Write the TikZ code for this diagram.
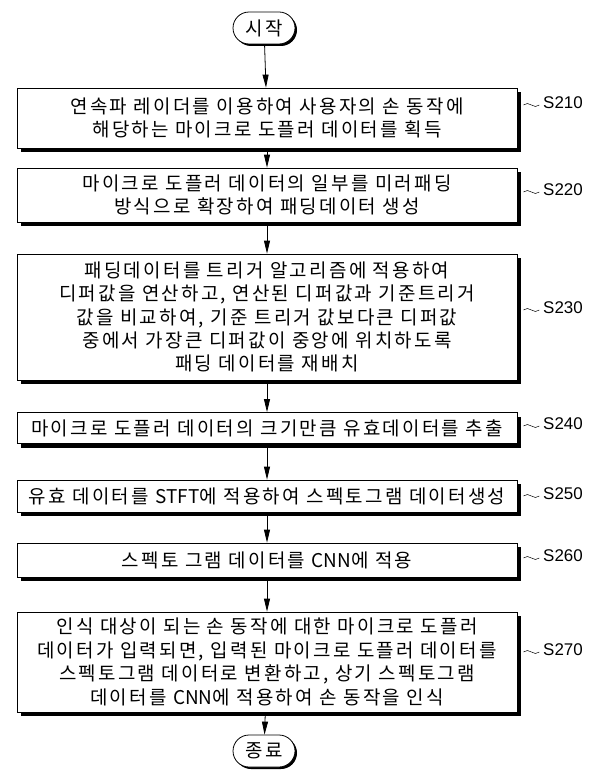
\documentclass[tikz,border=0pt]{standalone}
\usepackage{fontspec}
\setmainfont{Noto Sans CJK KR}
\newfontfamily\korfont[LetterSpace=12]{Noto Sans CJK KR}
\newfontfamily\latfont{Noto Sans CJK KR}
\newfontfamily\labelfont{Liberation Sans}
\usetikzlibrary{
    arrows.meta,
    shadows,
    shapes.misc
}

\tikzset{
  stepbox/.style={draw=black,line width=0.8pt,fill=white,align=center,
    minimum width=500bp,inner sep=1bp,
    font=\korfont\fontsize{19}{23.5}\selectfont,
    drop shadow={shadow xshift=4bp,shadow yshift=-4bp,fill=black,opacity=1}},
  termbox/.style={draw=black,line width=0.8pt,fill=white,rounded rectangle,
    minimum width=66bp,minimum height=32bp,inner sep=2bp,
    font=\korfont\fontsize{19}{19}\selectfont,
    drop shadow={shadow xshift=2bp,shadow yshift=-2bp,fill=black,opacity=1}},
  steplabel/.style={font=\labelfont\fontsize{17}{17}\selectfont,anchor=west,inner sep=0pt},
  flow/.style={-{Triangle[length=13bp,width=6bp]},line width=0.8pt},
  squiggle/.style={line width=0.5pt}
}

\begin{document}
\begin{tikzpicture}[x=1bp,y=-1bp]
\useasboundingbox (0,0) rectangle (598,775);
% terminals
\node[termbox] (start) at (264,28) {시작};
\node[termbox] (stop)  at (264,751) {종료};
% process steps
\node[stepbox,minimum height=60bp]  (s210) at (267,118) {연속파 레이더를 이용하여 사용자의 손 동작에\\해당하는 마이크로 도플러 데이터를 획득};
\node[stepbox,minimum height=54bp]  (s220) at (267,195) {마이크로 도플러 데이터의 일부를 미러패딩\\방식으로 확장하여 패딩데이터 생성};
\node[stepbox,minimum height=126bp] (s230) at (267,317) {패딩데이터를 트리거 알고리즘에 적용하여\\디퍼값을 연산하고, 연산된 디퍼값과 기준트리거\\값을 비교하여, 기준 트리거 값보다큰 디퍼값\\중에서 가장큰 디퍼값이 중앙에 위치하도록\\패딩 데이터를 재배치};
\node[stepbox,minimum height=31bp]  (s240) at (267,428) {마이크로 도플러 데이터의 크기만큼 유효데이터를 추출};
\node[stepbox,minimum height=32bp]  (s250) at (267,496) {유효 데이터를 {\latfont STFT}에 적용하여 스펙토그램 데이터생성};
\node[stepbox,minimum height=34bp]  (s260) at (267,560) {스펙토 그램 데이터를 {\latfont CNN}에 적용};
\node[stepbox,minimum height=100bp] (s270) at (267,662) {인식 대상이 되는 손 동작에 대한 마이크로 도플러\\데이터가 입력되면, 입력된 마이크로 도플러 데이터를\\스펙토그램 데이터로 변환하고, 상기 스펙토그램\\데이터를 {\latfont CNN}에 적용하여 손 동작을 인식};
% step numbers
\node[steplabel] (l210) at (543,103) {S210};
\node[steplabel] (l220) at (543,190) {S220};
\node[steplabel] (l230) at (543,308) {S230};
\node[steplabel] (l240) at (543,424) {S240};
\node[steplabel] (l250) at (543,494) {S250};
\node[steplabel] (l260) at (543,556) {S260};
\node[steplabel] (l270) at (543,650) {S270};
\foreach \s in {210,220,230,240,250,260,270}
  \draw[squiggle] (s\s.east |- l\s.west) ++(6,2) sin ++(4,-1.5) cos ++(4,1.5) sin ++(4,1.5) cos ++(4,-1.5);
% flow
\draw[flow] (start) -- (s210);
\draw[flow] (s210) -- (s220);
\draw[flow] (s220) -- (s230);
\draw[flow] (s230) -- (s240);
\draw[flow] (s240) -- (s250);
\draw[flow] (s250) -- (s260);
\draw[flow] (s260) -- (s270);
\draw[flow] (s270) -- (stop);
\end{tikzpicture}
\end{document}
